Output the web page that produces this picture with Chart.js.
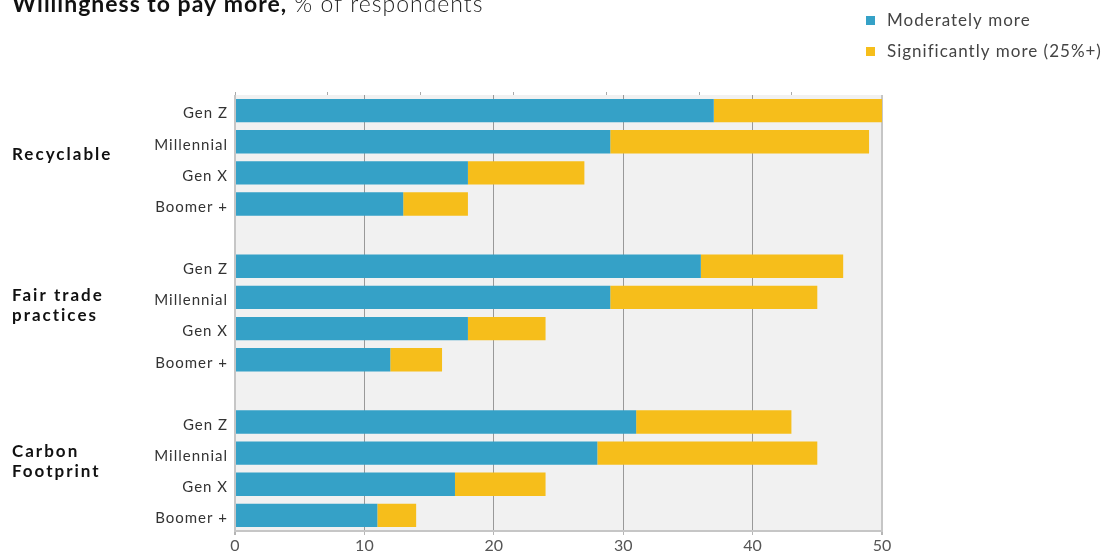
<!DOCTYPE html>
<html>
<head>
<meta charset="utf-8">
<script src="https://cdn.jsdelivr.net/npm/chart.js@4/dist/chart.umd.min.js"></script>
<style>
  html, body { margin: 0; padding: 0; background: #fff; }
  #wrap { width: 1118px; height: 555px; position: relative; }
</style>
</head>
<body>
<div id="wrap"><canvas id="payChart"></canvas></div>
<script>
/* global Chart:false */

var generations = ["Gen Z", "Millennial", "Gen X", "Boomer +"];
var attributes = [["Recyclable"], ["Fair trade", "practices"], ["Carbon", "Footprint"]];
var moderatelyMore = [
  [37, 29, 18, 13],
  [36, 29, 18, 12],
  [31, 28, 17, 11],
];
var significantlyMore = [
  [13, 20, 9, 5],
  [11, 16, 6, 4],
  [12, 17, 7, 3],
];
var xTicks = [0, 10, 20, 30, 40, 50];

var fontFamily = "Lato, 'Noto Sans', sans-serif";

// one empty row between attribute groups
function flatten(groups, filler) {
  var out = [];
  groups.forEach(function (g, i) {
    if (i > 0) out.push(filler);
    g.forEach(function (v) { out.push(v); });
  });
  return out;
}

var rowLabels = flatten(attributes.map(function () { return generations; }), "");
var moderateRows = flatten(moderatelyMore, null);
var significantRows = flatten(significantlyMore, null);

// category axis whose labels are drawn with a little tracking
class SpacedCategoryScale extends Chart.CategoryScale {
  drawLabels(area) {
    this.ctx.save();
    this.ctx.letterSpacing = "1px";
    super.drawLabels(area);
    this.ctx.restore();
  }
}
SpacedCategoryScale.id = "spacedCategory";
SpacedCategoryScale.defaults = Chart.CategoryScale.defaults;
Chart.register(SpacedCategoryScale);

var chartBackground = {
  id: "chartBackground",
  beforeDraw: function (chart) {
    var a = chart.chartArea, ctx = chart.ctx;
    ctx.save();
    ctx.fillStyle = "#f1f1f1";
    ctx.fillRect(a.left, a.top, a.right - a.left, a.bottom - a.top);
    ctx.restore();
  },
};

var decorations = {
  id: "decorations",
  afterDraw: function (chart) {
    var ctx = chart.ctx, y = chart.scales.y;
    ctx.save();

    // title
    ctx.textBaseline = "alphabetic";
    ctx.textAlign = "left";
    ctx.letterSpacing = "1px";
    ctx.fillStyle = "#111";
    ctx.font = "bold 23px " + fontFamily;
    var lead = "Willingness to pay more,";
    ctx.fillText(lead, 12, 12);
    var w = ctx.measureText(lead).width;
    ctx.fillStyle = "#222";
    ctx.font = "300 23px " + fontFamily;
    ctx.fillText(" % of respondents", 12 + w, 12);

    // legend
    ctx.font = "17px " + fontFamily;
    ctx.textBaseline = "alphabetic";
    chart.data.datasets.forEach(function (ds, i) {
      var cy = 20 + i * 31;
      ctx.fillStyle = ds.backgroundColor;
      ctx.fillRect(866, cy - 4, 9, 9);
      ctx.fillStyle = "#444";
      ctx.fillText(ds.label, 887, cy + 6);
    });

    // attribute group labels
    ctx.font = "bold 17px " + fontFamily;
    ctx.letterSpacing = "2px";
    ctx.textBaseline = "middle";
    ctx.fillStyle = "#111";
    attributes.forEach(function (lines, g) {
      var first = g * 5;
      var shift = lines.length > 1 ? 7 : 3;
      var mid = (y.getPixelForValue(first + 1) + y.getPixelForValue(first + 2)) / 2 - shift;
      var top = mid - ((lines.length - 1) * 20) / 2;
      lines.forEach(function (line, k) {
        ctx.fillText(line, 12, top + k * 20);
      });
    });
    ctx.restore();
  },
};

new Chart(document.getElementById("payChart"), {
  type: "bar",
  data: {
    labels: rowLabels,
    datasets: [
      {
        label: "Moderately more",
        data: moderateRows,
        backgroundColor: "#35a1c7",
        barPercentage: 0.75,
        categoryPercentage: 1,
      },
      {
        label: "Significantly more (25%+)",
        data: significantRows,
        backgroundColor: "#f6be1b",
        barPercentage: 0.75,
        categoryPercentage: 1,
      },
    ],
  },
  options: {
    indexAxis: "y",
    responsive: true,
    maintainAspectRatio: false,
    animation: false,
    layout: { padding: { left: 0, top: 95, right: 236, bottom: 0 } },
    plugins: {
      legend: { display: false },
      tooltip: { enabled: false },
    },
    scales: {
      x: {
        type: "linear",
        stacked: true,
        min: 0,
        max: 50,
        afterFit: function (scale) { scale.height = 24; },
        afterBuildTicks: function (scale) {
          scale.ticks = xTicks.map(function (v) { return { value: v }; });
        },
        grid: {
          color: function (ctx) {
            var v = ctx.tick && ctx.tick.value;
            return v === 0 || v === 50 ? "#c6c6c6" : "#999999";
          },
          lineWidth: function (ctx) {
            var v = ctx.tick && ctx.tick.value;
            return v === 0 || v === 50 ? 2 : 1;
          },
          tickColor: "#b5b5b5",
          tickLength: 4,
        },
        border: { display: true, color: "#c6c6c6", width: 2 },
        ticks: {
          color: "#555",
          padding: 1,
          font: { family: fontFamily, size: 16 },
        },
      },
      // short marks along the top edge
      xTop: {
        type: "linear",
        position: "top",
        min: 0,
        max: 6.97,
        afterFit: function (scale) { scale.height = 0; },
        ticks: { display: false, stepSize: 1 },
        grid: {
          drawOnChartArea: false,
          tickLength: 3,
          tickColor: function (ctx) {
            var v = ctx.tick && ctx.tick.value;
            return Number.isInteger(v) ? "#aaaaaa" : "rgba(0,0,0,0)";
          },
        },
        border: { display: false },
      },
      y: {
        type: "spacedCategory",
        stacked: true,
        afterFit: function (scale) { scale.width = 235; },
        grid: { display: false, drawTicks: false },
        border: { display: false },
        ticks: {
          color: "#333",
          padding: 7,
          labelOffset: 3,
          autoSkip: false,
          font: { family: fontFamily, size: 15 },
        },
      },
    },
  },
  plugins: [chartBackground, decorations],
});
</script>
</body>
</html>
